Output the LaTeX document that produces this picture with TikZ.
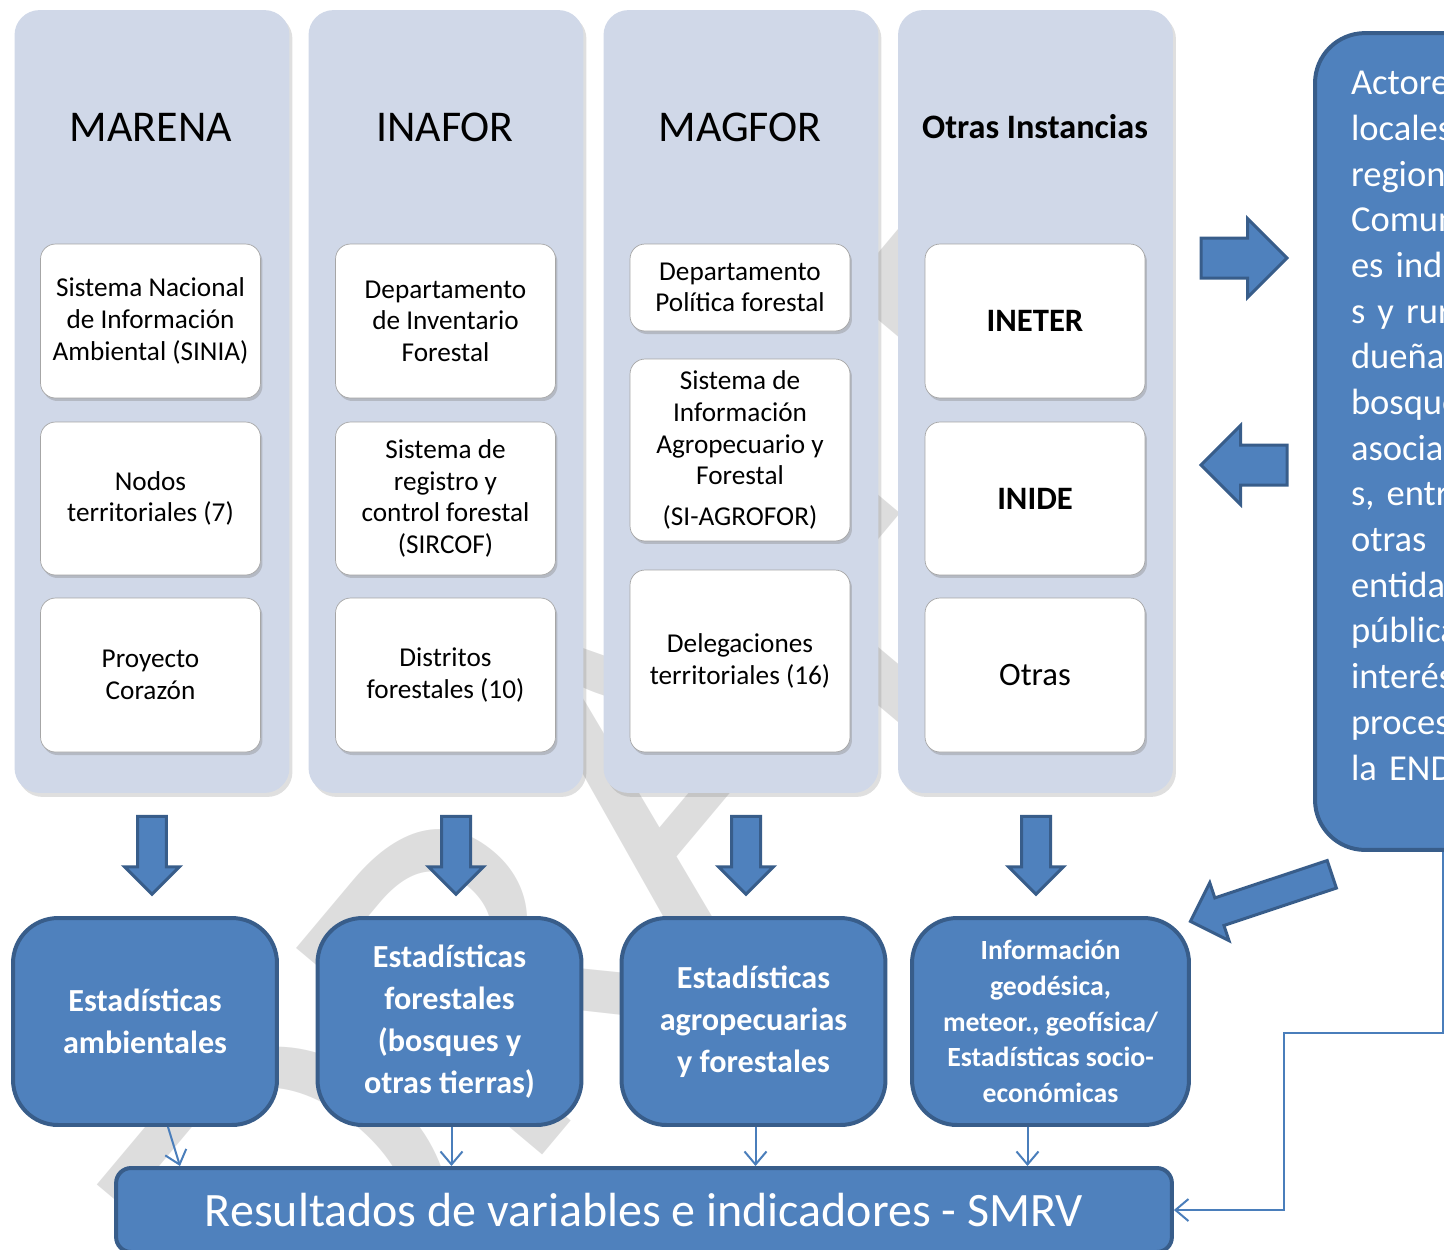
\documentclass[tikz,border=0pt]{standalone}
\usepackage{fontspec}
\setmainfont{Carlito}
\usetikzlibrary{shapes.arrows,shadows,calc,arrows.meta}
\definecolor{panelgray}{HTML}{D0D8E8}
\definecolor{blockblue}{HTML}{4F81BD}
\definecolor{blockedge}{HTML}{385D8A}
\definecolor{linkblue}{HTML}{4A7EBB}
\definecolor{marcagris}{HTML}{DDDDDD}

\begin{document}
\begin{tikzpicture}[x=0.02cm,y=-0.02cm,
  borrador/.style={text=marcagris,rotate=50,font=\fontsize{285pt}{285pt}\selectfont},
  columna/.style={fill=panelgray,rounded corners=0.5cm,minimum width=5.5cm,minimum height=15.66cm,
    drop shadow={opacity=0.25,shadow xshift=0.06cm,shadow yshift=-0.08cm}},
  titulo/.style={font=\fontsize{25pt}{30pt}\selectfont},
  caja/.style={fill=white,draw=black!35,rounded corners=0.3cm,minimum width=4.4cm,align=center,
    font=\fontsize{15.5pt}{18pt}\selectfont,
    drop shadow={opacity=0.35,shadow xshift=0.04cm,shadow yshift=-0.06cm}},
  sigla/.style={caja,font=\fontsize{18.6pt}{22pt}\selectfont},
  estad/.style={fill=blockblue,draw=blockedge,line width=0.08cm,rounded corners=0.9cm,text=white,
    align=center,minimum width=5.28cm,minimum height=4.14cm,font=\bfseries\fontsize{18.3pt}{24pt}\selectfont},
  flecha/.style={single arrow,fill=blockblue,draw=blockedge,line width=0.06cm,inner xsep=0pt},
  flechabaja/.style={flecha,shape border rotate=270,minimum height=1.56cm,inner ysep=0pt,inner xsep=0.26cm,single arrow head extend=0.26cm},
  flechalado/.style={flecha,minimum height=1.72cm,inner ysep=0.37cm,single arrow head extend=0.39cm},
  enlace/.style={draw=linkblue,line width=0.04cm,-{Straight Barb[length=0.26cm,width=0.44cm]}}
]
\useasboundingbox (0,0) rectangle (1444,1249);
\clip (0,0) rectangle (1444,1249);

\node[borrador] (marca) at (630,800) {DRAFT};

% columnas
\node[columna] (marena) at (152,401.5) {};
\node[columna] (inafor) at (446,401.5) {};
\node[columna] (magfor) at (741,401.5) {};
\node[columna] (otras) at (1035.5,401.5) {};
\node[titulo] (tmarena) at (151,127) {MARENA};
\node[titulo] (tinafor) at (445,127) {INAFOR};
\node[titulo] (tmagfor) at (740,127) {MAGFOR};
\node[titulo,font=\bfseries\fontsize{19.5pt}{22pt}\selectfont] (totras) at (1035,127) {Otras Instancias};

\node[caja,minimum height=3.08cm] (sinia) at (150.5,321) {Sistema Nacional\\de Información\\Ambiental (SINIA)};
\node[caja,minimum height=3.06cm] (nodos) at (150.5,498.5) {Nodos\\territoriales (7)};
\node[caja,minimum height=3.08cm] (corazon) at (150.5,675) {Proyecto\\Corazón};

\node[caja,minimum height=3.08cm] (invent) at (445.5,321) {Departamento\\de Inventario\\Forestal};
\node[caja,minimum height=3.06cm] (sircof) at (445.5,498.5) {Sistema de\\registro y\\control forestal\\(SIRCOF)};
\node[caja,minimum height=3.08cm] (distritos) at (445.5,675) {Distritos\\forestales (10)};

\node[caja,minimum height=1.74cm] (politica) at (740,287.5) {Departamento\\Política forestal};
\node[caja,minimum height=3.64cm] (agrofor) at (740,450) {Sistema de\\Información\\Agropecuario y\\Forestal\\[5pt](SI-AGROFOR)};
\node[caja,minimum height=3.64cm] (delegac) at (740,661) {Delegaciones\\territoriales (16)};

\node[sigla,minimum height=3.08cm] (ineter) at (1035,321) {\textbf{INETER}};
\node[sigla,minimum height=3.06cm] (inide) at (1035,498.5) {\textbf{INIDE}};
\node[sigla,minimum height=3.08cm] (otrasinst) at (1035,675) {Otras};

% actores
\node[fill=blockblue,draw=blockedge,line width=0.08cm,rounded corners=1cm,text=white,
  minimum width=5.12cm,minimum height=16.34cm,text width=3.68cm,inner xsep=0.72cm,align=left,
  font=\fontsize{20.8pt}{26pt}\selectfont] (actores) at (1443,441.5)
  {Actores\\locales y\\regionales\\Comunidad\\es indígena\\s y rurales\\dueñas de\\bosques,\\asociacione\\s, entre\\otras\\entidades\\públicas de\\interés en\\proceso de\\la ENDE\\[-8pt]~};

\node[flechalado] (fder) at (1234,258) {};
\node[flechalado,shape border rotate=180] (fizq) at (1254,465) {};
\node[flecha,rotate=198.4,minimum height=2.98cm,inner ysep=0.26cm,single arrow head extend=0.32cm] (fdiag) at (1268,895.5) {};

% flechas gruesas
\node[flechabaja] (f1) at (152,848) {};
\node[flechabaja] (f2) at (456,848) {};
\node[flechabaja] (f3) at (746,848) {};
\node[flechabaja] (f4) at (1036,848) {};

% estadisticas
\node[estad] (est1) at (145,1021.5) {Estadísticas\\ambientales};
\node[estad] (est2) at (449.5,1021.5) {Estadísticas\\forestales\\(bosques y\\otras tierras)};
\node[estad] (est3) at (753.5,1021.5) {Estadísticas\\agropecuarias\\y forestales};
\node[estad,minimum width=5.54cm,font=\bfseries\fontsize{15.8pt}{20.3pt}\selectfont] (est4) at (1050.5,1021.5)
  {Información\\geodésica,\\meteor., geofísica/\\Estadísticas socio-\\económicas};

\node[fill=blockblue,draw=blockedge,line width=0.08cm,rounded corners=0.3cm,text=white,
  minimum width=21.12cm,minimum height=1.68cm,font=\fontsize{27.3pt}{32pt}\selectfont] (res) at (644,1210)
  {Resultados de variables e indicadores - SMRV};

\draw[enlace] ($(est1.south)+(23,0)$) -- ($(res.north)+(-464,0)$);
\draw[enlace] ($(est2.south)+(2,0)$) coordinate (s2) -- (s2 |- res.north);
\draw[enlace] ($(est3.south)+(2,0)$) coordinate (s3) -- (s3 |- res.north);
\draw[enlace] ($(est4.south)+(-23,0)$) coordinate (s4) -- (s4 |- res.north);
\coordinate (codo) at (1284,1033);
\draw[enlace] (actores.south) |- (codo) |- (res.east);
\end{tikzpicture}
\end{document}
